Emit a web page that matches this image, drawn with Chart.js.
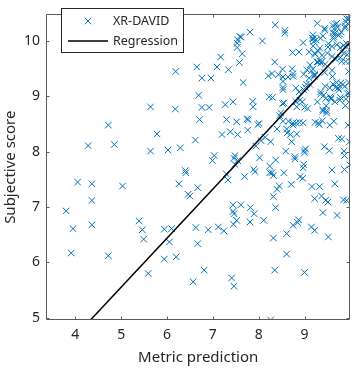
<!DOCTYPE html>
<html><head><meta charset="utf-8">
<script src="https://cdn.jsdelivr.net/npm/chart.js@4"></script>
<style>html,body{margin:0;padding:0;background:#fff}#wrap{width:356px;height:369px}</style>
</head><body><div id="wrap"><canvas id="c" width="356" height="369"></canvas></div>
<script>
const seriesName = "XR-DAVID";
const lineName = "Regression";
const xTicks = [4,5,6,7,8,9];
const yTicks = [5,6,7,8,9,10];
const xTitle = "Metric prediction";
const yTitle = "Subjective score";
const regX = [4.33, 10.0];
const regY = [4.96, 9.98];
const ptX = [3.80,3.95,3.91,4.05,4.28,4.36,4.36,4.36,4.72,4.72,4.85,5.03,5.39,5.46,5.49,5.64,5.64,5.59,5.78,5.94,5.94,6.02,6.05,6.10,6.18,6.19,6.20,6.29,6.26,6.40,6.41,6.46,6.50,6.57,6.62,6.65,6.63,6.67,6.67,6.69,6.71,6.76,6.76,6.81,6.92,6.90,6.96,6.99,7.03,7.09,7.12,7.17,7.20,7.24,7.27,7.30,7.33,7.29,7.34,7.38,7.41,7.44,7.44,7.44,7.46,7.45,7.46,7.46,7.48,7.48,7.52,7.52,7.54,7.54,7.53,7.53,7.54,7.59,7.62,7.61,7.58,7.64,7.66,7.69,7.74,7.77,7.76,7.81,7.82,7.81,7.90,7.87,7.88,7.89,7.92,7.94,7.98,8.01,8.02,8.05,8.08,8.11,8.14,8.21,8.23,8.24,8.26,8.24,8.29,8.26,8.30,8.29,8.32,8.32,8.32,8.35,8.35,8.36,8.37,8.37,8.40,8.40,8.43,8.45,8.46,8.48,8.52,8.53,8.53,8.53,8.53,8.52,8.53,8.55,8.57,8.57,8.59,8.61,8.62,8.61,8.61,8.64,8.65,8.69,8.72,8.71,8.73,8.75,8.74,8.75,8.75,8.75,8.79,8.79,8.81,8.83,8.82,8.83,8.85,8.87,8.88,8.88,8.89,8.90,8.95,8.96,8.97,8.98,8.97,8.97,8.99,9.00,9.00,9.02,9.00,9.04,9.07,9.12,9.16,9.15,9.18,9.18,9.19,9.19,9.21,9.22,9.22,9.22,9.23,9.23,9.28,9.28,9.29,9.30,9.32,9.33,9.33,9.33,9.35,9.37,9.38,9.40,9.39,9.40,9.40,9.43,9.44,9.44,9.46,9.46,9.47,9.48,9.48,9.51,9.51,9.52,9.54,9.55,9.56,9.58,9.60,9.60,9.61,9.62,9.64,9.63,9.64,9.66,9.67,9.68,9.71,9.73,9.74,9.77,9.77,9.79,9.81,9.81,9.83,9.85,9.86,9.87,9.87,9.89,9.89,9.90,9.92,9.92,9.93,9.95,9.96,9.97,9.97,9.98,9.98,9.98,9.99,9.99,
9.44,9.62,9.70,9.72,9.66,9.63,9.74,9.80,9.88,9.92,9.96,9.97,9.17,9.20,9.25,9.35,9.40,9.10,9.22,9.30,9.38,9.27,9.36,9.45,9.50,9.60,9.68,9.78,9.85,9.90,9.52,9.60,9.70,9.78,9.85,8.75,8.98,9.05,9.10,9.15,9.22,9.11,9.45,9.55,9.62,9.70,9.75,9.88,9.93,9.35,9.42,9.58,9.66,9.78,9.90,8.98,9.02,8.55,8.82,8.90];
const ptY = [6.93,6.61,6.17,7.45,8.11,7.42,7.12,6.68,8.48,6.12,8.13,7.38,6.75,6.59,6.42,8.81,8.01,5.80,8.32,6.60,6.06,8.03,6.37,6.61,8.77,9.45,6.10,8.07,7.42,7.66,7.62,7.23,7.20,5.65,8.21,9.53,6.63,7.35,6.34,9.02,8.58,8.80,9.33,5.86,8.80,6.59,9.33,7.84,7.93,9.53,6.64,9.71,8.31,6.57,8.85,8.58,7.49,7.60,9.48,8.36,5.72,8.90,7.04,6.92,6.88,6.69,5.57,7.88,7.93,7.77,8.54,6.76,8.31,7.84,9.88,9.96,10.02,10.08,10.07,7.04,9.61,9.77,9.25,7.55,8.59,8.58,8.39,10.16,6.99,6.73,6.88,8.91,8.81,7.68,7.64,8.10,8.49,8.51,7.89,8.20,10.00,6.76,8.26,9.37,8.99,7.74,8.18,7.62,7.62,4.96,8.98,9.41,7.57,7.19,6.44,5.86,9.62,10.29,6.99,7.85,7.32,8.41,9.39,7.38,8.65,8.70,9.49,9.27,9.35,9.16,9.12,8.87,8.55,7.62,10.19,10.14,8.01,8.41,8.34,6.52,6.15,9.35,8.55,8.31,8.18,7.41,9.50,9.41,9.79,8.48,8.52,6.67,7.91,7.87,9.15,8.32,8.52,8.81,6.72,6.77,9.08,9.80,8.53,7.55,8.90,7.52,8.52,7.77,7.71,9.97,8.02,7.98,5.82,8.05,8.80,9.22,8.78,9.57,7.37,6.64,9.49,10.11,10.04,9.91,9.36,6.58,9.38,7.15,8.53,9.76,10.32,8.90,9.62,8.52,8.49,7.37,9.64,9.87,9.04,7.20,9.63,6.90,8.56,8.76,8.73,8.09,9.43,10.23,7.12,8.96,8.83,8.74,8.70,7.09,9.89,6.46,8.02,8.48,8.99,8.97,9.47,7.67,9.36,10.15,10.22,10.04,8.55,7.42,9.16,10.30,6.85,9.15,8.24,8.93,10.12,9.24,8.23,9.63,9.21,7.13,8.01,7.93,7.68,8.83,10.27,10.35,9.95,7.12,9.75,8.48,9.45,9.06,9.25,8.18,10.47,9.84,9.63,7.76,
10.20,10.28,10.32,10.25,10.14,10.08,10.10,10.16,10.24,10.40,10.30,10.40,10.05,9.99,10.02,10.05,10.09,9.80,9.78,9.82,9.74,9.62,9.60,9.58,9.78,9.72,9.67,9.70,9.78,9.63,9.95,9.90,9.93,9.88,9.92,9.36,9.40,9.48,9.33,9.46,9.40,9.22,9.18,9.15,9.22,9.25,9.12,9.18,9.05,9.08,9.02,8.95,8.90,8.98,8.95,9.12,9.16,8.88,8.90,8.93];

const BLUE = '#0072BD';
const AX = '#262626';
const FONT = "'Noto Sans', sans-serif";

const points = ptX.map((v,i)=>({x:v, y:ptY[i]}));
const regLine = regX.map((v,i)=>({x:v, y:regY[i]}));

const framePlugin = {
  id:'frame',
  afterDatasetsDraw(chart){
    const {ctx, chartArea:a, scales} = chart;
    const L=Math.round(a.left)+0.5, R=Math.round(a.right)-0.5, T=Math.round(a.top)+0.5, B=Math.round(a.bottom)-0.5;
    ctx.save();
    ctx.strokeStyle='#5a5a5a'; ctx.lineWidth=1;
    ctx.beginPath(); ctx.rect(L,T,R-L,B-T); ctx.stroke();
    ctx.beginPath();
    xTicks.forEach(v=>{const p=Math.round(scales.x.getPixelForValue(v))+0.5; ctx.moveTo(p,B); ctx.lineTo(p,B-3); ctx.moveTo(p,T); ctx.lineTo(p,T+3);});
    yTicks.forEach(v=>{const p=Math.round(scales.y.getPixelForValue(v))+0.5; ctx.moveTo(L,p); ctx.lineTo(L+3,p); ctx.moveTo(R,p); ctx.lineTo(R-3,p);});
    ctx.stroke();
    // legend
    const bx=61.5, by=8.5, bw=122, bh=44;
    ctx.fillStyle='#fff'; ctx.fillRect(bx,by,bw,bh);
    ctx.strokeStyle='#262626'; ctx.strokeRect(bx,by,bw,bh);
    const mx=88, my=21, r=3.3;
    ctx.strokeStyle=BLUE; ctx.lineWidth=1;
    ctx.beginPath(); ctx.moveTo(mx-r,my-r); ctx.lineTo(mx+r,my+r); ctx.moveTo(mx-r,my+r); ctx.lineTo(mx+r,my-r); ctx.stroke();
    ctx.strokeStyle='#000'; ctx.lineWidth=1.5;
    ctx.beginPath(); ctx.moveTo(68,41); ctx.lineTo(108,41); ctx.stroke();
    ctx.fillStyle=AX; ctx.font="12.5px "+FONT; ctx.textBaseline='middle'; ctx.textAlign='left';
    ctx.fillText(seriesName,113,21);
    ctx.fillText(lineName,113,41);
    ctx.restore();
  }
};

new Chart(document.getElementById('c'), {
  type:'scatter',
  data:{datasets:[
    {label:seriesName, data:points, pointStyle:'crossRot', pointRadius:4.6, pointHoverRadius:4.6, borderColor:BLUE, backgroundColor:BLUE, pointBorderWidth:1, borderWidth:1, order:2},
    {label:lineName, type:'line', data:regLine, showLine:true, pointRadius:0, borderColor:'#000', borderWidth:1.5, fill:false, order:1}
  ]},
  options:{
    responsive:false, animation:false, devicePixelRatio:1,
    layout:{padding:{top:5,right:5,left:0,bottom:0}},
    plugins:{legend:{display:false}, tooltip:{enabled:false}},
    scales:{
      x:{type:'linear', min:3.36, max:10.0,
         afterBuildTicks(s){s.ticks=xTicks.map(v=>({value:v}));},
         afterFit(s){s.height=49;},
         grid:{display:false, drawTicks:false}, border:{display:false},
         ticks:{color:AX, font:{family:FONT,size:14}, padding:7},
         title:{display:true, text:xTitle, color:AX, font:{family:FONT,size:15}, padding:{top:0,bottom:2}}},
      y:{type:'linear', min:4.96, max:10.48,
         afterBuildTicks(s){s.ticks=yTicks.map(v=>({value:v}));},
         afterFit(s){s.width=46;},
         grid:{display:false, drawTicks:false}, border:{display:false},
         ticks:{color:AX, font:{family:FONT,size:14}, padding:6},
         title:{display:true, text:yTitle, color:AX, font:{family:FONT,size:15}, padding:{top:2,bottom:0}}}
    }
  },
  plugins:[framePlugin]
});
</script></body></html>
